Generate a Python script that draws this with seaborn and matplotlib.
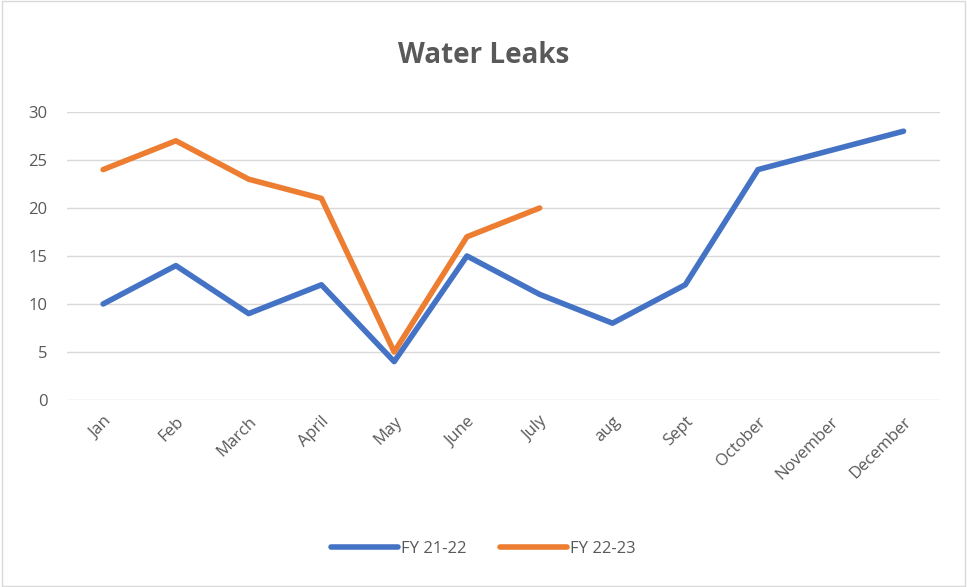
import matplotlib
matplotlib.use("Agg")
import matplotlib.pyplot as plt
import seaborn as sns
import pandas as pd

months = ['Jan', 'Feb', 'March', 'April', 'May', 'June', 'July', 'aug',
          'Sept', 'October', 'November', 'December']
fy_21_22 = [10, 14, 9, 12, 4, 15, 11, 8, 12, 24, 26, 28]
fy_22_23 = [24, 27, 23, 21, 5, 17, 20]
series_names = ['FY 21-22', 'FY 22-23']
yticks = [0, 5, 10, 15, 20, 25, 30]

rows = []
for name, vals in zip(series_names, [fy_21_22, fy_22_23]):
    for i, v in enumerate(vals):
        rows.append({'month': months[i], 'pos': i, 'leaks': v, 'series': name})
data = pd.DataFrame(rows)

sns.set_style("white")
plt.rcParams['font.family'] = ['Open Sans', 'DejaVu Sans']
grey = '#595959'

fig = plt.figure(figsize=(9.67, 5.87), dpi=100)
ax = fig.add_axes([0.069, 0.3186, 0.903, 0.4906])

# light border around the whole chart area
fig.patches.append(plt.Rectangle((0.002, 0.002), 0.996, 0.996, transform=fig.transFigure,
                                 fill=False, edgecolor='#d9d9d9', linewidth=1))

sns.lineplot(data=data, x='pos', y='leaks', hue='series',
             palette={'FY 21-22': '#4472C4', 'FY 22-23': '#ED7D31'},
             linewidth=4, ax=ax, legend=True)

ax.set_xlim(-0.5, len(months) - 0.5)
ax.set_ylim(0, 30)
ax.set_xticks(range(len(months)))
ax.set_xticklabels(months, rotation=45, ha='right', rotation_mode='anchor',
                   color=grey, fontsize=12)
ax.set_yticks(yticks)
ax.set_yticklabels([str(t) for t in yticks], color=grey, fontsize=12)
ax.tick_params(axis='x', length=0, pad=10)
ax.tick_params(axis='y', length=0, pad=14)
ax.yaxis.grid(True, color='#d9d9d9', linewidth=1)
ax.set_axisbelow(True)
for s in ax.spines.values():
    s.set_visible(False)
ax.set_xlabel('')
ax.set_ylabel('')

fig.text(0.5, 0.905, 'Water Leaks', ha='center', va='center',
         fontsize=20, fontweight='bold', color=grey)

handles, labels = ax.get_legend_handles_labels()
ax.legend(handles, labels, loc='center', bbox_to_anchor=(0.5, 0.065),
          bbox_transform=fig.transFigure, ncol=2, frameon=False,
          fontsize=12, labelcolor=grey, handlelength=4, columnspacing=2,
          handletextpad=0.2)

fig.savefig('out.png', dpi=100)
